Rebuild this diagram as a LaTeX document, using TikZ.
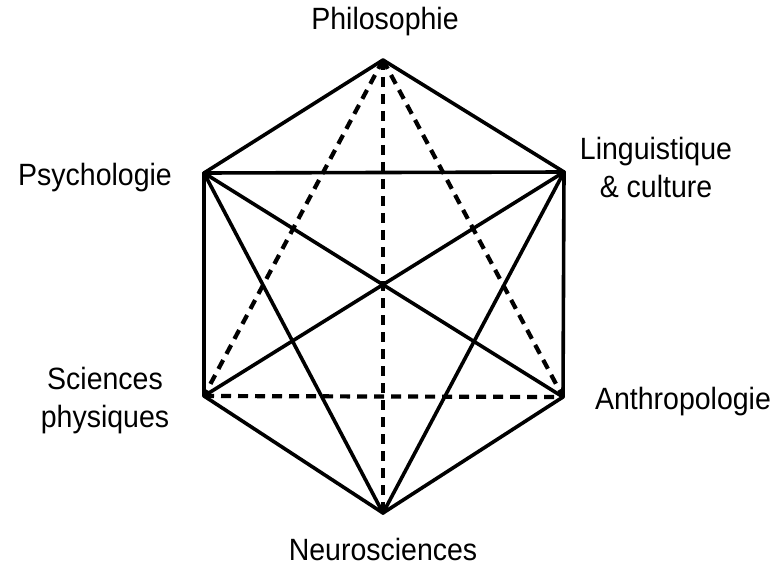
\documentclass[tikz,border=0pt]{standalone}
\usepackage{fontspec}
\usepackage{graphicx}
\setmainfont{Liberation Sans}
\newcommand{\tallt}[1]{\scalebox{1}[1.08]{#1}}
\begin{document}
\begin{tikzpicture}[x=1pt,y=-1pt,
  solidedge/.style={line width=3.6pt,line cap=round,line join=round},
  dashedge/.style={line width=4.2pt,dash pattern=on 10pt off 7pt},
  lab/.style={font=\fontsize{28.5}{38}\selectfont,align=center,inner sep=0pt}]
\useasboundingbox (0,0) rectangle (773,569);
\coordinate (T) at (383,60);
\coordinate (UL) at (204,173);
\coordinate (UR) at (564,172);
\coordinate (LL) at (204,396);
\coordinate (LR) at (563,397);
\coordinate (B) at (383,513);
% dashed edges
\draw[dashedge] (T) -- (LL);
\draw[dashedge] (T) -- (LR);
\draw[dashedge] (T) -- (B);
\draw[dashedge] (LL) -- (LR);
% solid edges
\draw[solidedge] (T) -- (UL) -- (LL) -- (B) -- (LR) -- (UR) -- cycle;
\draw[solidedge] (UL) -- (UR);
\draw[solidedge] (UL) -- (LR);
\draw[solidedge] (UR) -- (LL);
\draw[solidedge] (UL) -- (B);
\draw[solidedge] (UR) -- (B);
% labels
\node[lab] (philo) at (385,22) {\tallt{Philosophie}};
\node[lab] (psych) at (95,178) {\tallt{Psychologie}};
\node[lab] (ling) at (656,167) {\tallt{Linguistique}\\\tallt{\& culture}};
\node[lab] (sci) at (105,401) {\tallt{Sciences}\\\tallt{physiques}};
\node[lab] (anthro) at (683,402) {\tallt{Anthropologie}};
\node[lab] (neuro) at (383,549) {\tallt{Neurosciences}};
\end{tikzpicture}
\end{document}
